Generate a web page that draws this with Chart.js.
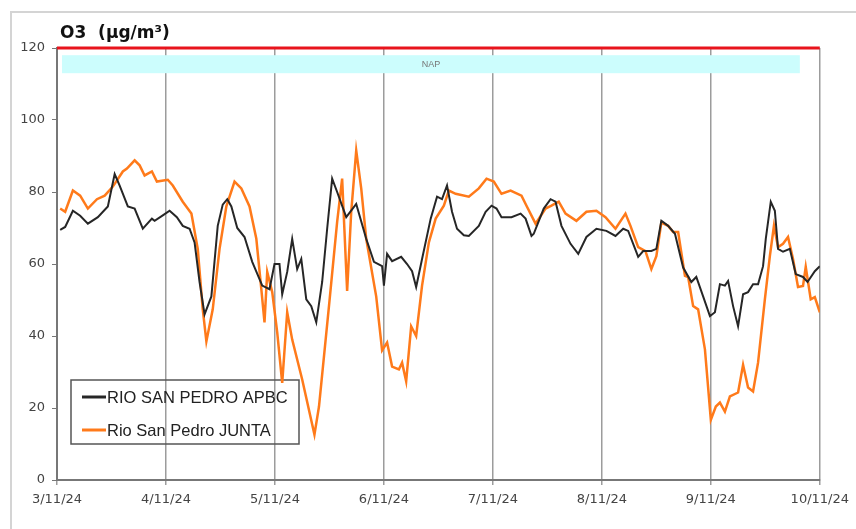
<!DOCTYPE html>
<html>
<head>
<meta charset="utf-8">
<script src="https://cdn.jsdelivr.net/npm/chart.js@4.4.1/dist/chart.umd.min.js"></script>
<style>
  html, body { margin: 0; padding: 0; background: #fff; }
  #wrap { position: relative; width: 856px; height: 529px; overflow: hidden; }
  #frame { position: absolute; left: 10px; top: 11px; width: 900px; height: 600px;
           border-left: 2px solid #d4d4d4; border-top: 2px solid #d4d4d4; }
  #chart { position: absolute; left: 0; top: 0; }
</style>
</head>
<body>
<div id="wrap">
  <div id="frame"></div>
  <canvas id="chart" width="856" height="529"></canvas>
</div>
<script>
// O3 hourly values (x = hours since 3/11/24 00:00)

const dateLabels = ['3/11/24', '4/11/24', '5/11/24', '6/11/24', '7/11/24', '8/11/24', '9/11/24', '10/11/24'];
const yTicks = [0, 20, 40, 60, 80, 100, 120];

const apbcHours = [0.7, 1.8, 3.5, 5.1, 6.8, 9.0, 11.2, 12.7, 13.8, 15.6, 17.1, 18.9, 20.9, 21.5, 23.3,
  24.8, 26.4, 27.7, 29.2, 30.3, 31.4, 32.5, 34.0, 35.4, 36.5, 37.5, 38.4, 39.7, 41.3, 43.0, 45.2, 46.8,
  47.9, 49.0, 49.6, 50.7, 51.8, 52.9, 53.8, 54.9, 56.0, 57.1, 58.4, 59.5, 60.6, 61.7, 63.7, 65.9, 68.1,
  69.8, 71.6, 72.0, 72.7, 73.8, 75.8, 77.1, 78.2, 79.1, 80.4, 82.3, 83.7, 84.8, 85.9, 87.0, 88.1, 89.6,
  90.7, 92.9, 94.4, 95.7, 96.8, 97.9, 100.1, 102.1, 103.2, 104.5, 105.0, 107.2, 108.7, 109.8, 111.1,
  113.1, 114.8, 116.6, 118.8, 121.0, 123.0, 124.7, 125.8, 128.0, 129.1, 130.9, 132.0, 133.1, 134.6,
  136.1, 137.9, 139.7, 140.8, 142.3, 143.8, 144.9, 146.0, 147.1, 147.8, 148.9, 150.0, 151.1, 152.2,
  153.3, 154.4, 155.5, 156.1, 157.2, 158.1, 158.8, 159.9, 161.4, 162.7, 164.3, 165.3, 166.9, 168.0];
const apbcValues = [69.5, 70.3, 74.8, 73.4, 71.2, 73, 76, 85, 81.8, 76, 75.4, 69.8, 72.6, 72, 73.5,
  74.8, 73, 70.6, 69.8, 66, 55, 46, 51, 70.6, 76.5, 78, 76, 70, 67.5, 60.6, 54, 53,
  60, 60, 51.6, 57.8, 67, 58.6, 61.4, 50.2, 48.3, 43.8, 55, 69.8, 83.7, 80, 73, 76.7, 67,
  60.6, 59.4, 54, 62.8, 60.8, 62, 60, 58, 53.6, 61.4, 72.6, 78.7, 78, 81.8, 74.5, 69.8, 68,
  67.8, 70.6, 74.5, 76.2, 75.4, 73, 73, 74, 72.6, 67.8, 68.4, 75.4, 78, 77.3, 70.6,
  65.6, 62.8, 67.5, 69.8, 69.2, 67.8, 69.8, 69.2, 62, 63.6, 63.6, 64.2, 72, 70.6,
  68.4, 59, 55, 56.4, 51, 45.5, 46.6, 54.4, 54, 55.3, 48.3, 42.7, 51.6, 52.2,
  54.4, 54.4, 59.4, 67, 77.3, 74.8, 64.2, 63.4, 64.2, 57.2, 56.4, 55, 58, 59.4];

const juntaHours = [0.7, 1.8, 3.5, 5.1, 6.8, 8.8, 10.5, 12.3, 14.5, 15.4, 17.1, 18.2, 19.3, 20.9, 22.0,
  24.4, 25.5, 27.7, 29.6, 31.0, 32.1, 32.9, 34.3, 35.8, 37.3, 39.1, 40.6, 42.4, 43.9, 45.0, 45.7, 46.3,
  47.4, 48.5, 49.6, 50.7, 51.8, 54.0, 56.7, 57.7, 59.9, 61.7, 62.8, 63.9, 64.8, 65.9, 67.0, 68.1, 70.3,
  71.6, 72.7, 73.8, 75.3, 76.0, 76.9, 78.0, 79.1, 80.4, 81.9, 83.4, 85.2, 86.3, 87.8, 90.7, 92.9, 94.6,
  96.2, 97.9, 99.9, 102.3, 103.4, 105.4, 107.6, 108.9, 110.5, 112.0, 114.4, 116.6, 118.8, 120.8, 123.0,
  125.2, 126.3, 128.0, 129.6, 130.9, 132.0, 133.1, 134.6, 135.7, 136.8, 138.3, 139.0, 140.1, 141.2,
  142.7, 144.0, 145.1, 146.0, 147.1, 148.2, 150.0, 151.1, 152.2, 153.3, 154.4, 155.9, 157.0, 157.9,
  158.8, 159.9, 161.0, 162.1, 163.2, 164.3, 164.9, 166.0, 166.9, 168.0];
const juntaValues = [75.4, 74.5, 80.4, 79, 75.4, 78, 79, 81.5, 85.7, 86.5, 88.8, 87.4, 84.6, 85.7, 82.9,
  83.4, 81.8, 77.3, 74, 64.2, 47.4, 38.5, 47.4, 64.2, 76, 82.9, 81, 76, 67, 53, 43.8, 57.8,
  52.2, 41, 27, 46.6, 39, 27.9, 12.6, 20.4, 48.3, 71.7, 83.7, 52.5, 74.5, 91.5, 81, 67, 51,
  36, 38.2, 31.5, 30.7, 32.6, 27.4, 42.7, 40, 54, 66, 72.6, 76.2, 80.4, 79.5, 78.7, 81, 83.7,
  82.9, 79.5, 80.4, 79, 76.2, 71.2, 75.4, 76.2, 77.3, 74, 72, 74.5, 74.8, 73, 69.8,
  74, 70.6, 64.7, 63.6, 58.6, 62.2, 71.5, 70.6, 68.9, 68.9, 56.7, 56.4, 48.3, 47.4,
  36.3, 16.7, 20.4, 21.5, 19, 23.2, 24.3, 32, 25.7, 24.6, 32.6, 50.2, 62.2, 70.6,
  64.7, 65.6, 67.5, 61.4, 53.6, 53.9, 59.2, 50.2, 50.8, 46.6];

// limit line and NAP band, in chart units
const limitValue = 120;
const napBand = { from: 1.1, to: 163.6, top: 118, bottom: 113, label: 'NAP' };

function points(hours, values) {
  return hours.map((h, i) => ({ x: h, y: values[i] }));
}

// draws title, red limit line, NAP band and the legend box
const extras = {
  id: 'extras',
  beforeDatasetsDraw(chart) {
    const ctx = chart.ctx;
    const xs = chart.scales.x, ys = chart.scales.y;
    ctx.save();

    // NAP band
    const bx1 = xs.getPixelForValue(napBand.from), bx2 = xs.getPixelForValue(napBand.to);
    const by1 = ys.getPixelForValue(napBand.top), by2 = ys.getPixelForValue(napBand.bottom);
    ctx.fillStyle = '#ccfdfd';
    ctx.fillRect(bx1, by1, bx2 - bx1, by2 - by1);
    ctx.fillStyle = '#777';
    ctx.font = '9px "Liberation Sans", Arial, sans-serif';
    ctx.textAlign = 'center';
    ctx.textBaseline = 'middle';
    ctx.fillText(napBand.label, (bx1 + bx2) / 2, (by1 + by2) / 2);

    // legend (transparent box, lines drawn over it)
    const lx = 71, ly = 380, lw = 228, lh = 64;
    ctx.strokeStyle = '#555';
    ctx.lineWidth = 1.5;
    ctx.strokeRect(lx, ly, lw, lh);
    ctx.font = '16.5px "Liberation Sans", Arial, sans-serif';
    ctx.textAlign = 'left';
    chart.data.datasets.forEach((ds, i) => {
      const yy = ly + 17 + i * 33;
      ctx.strokeStyle = ds.borderColor;
      ctx.lineWidth = 3;
      ctx.beginPath();
      ctx.moveTo(lx + 11, yy);
      ctx.lineTo(lx + 35, yy);
      ctx.stroke();
      ctx.fillStyle = '#222';
      ctx.fillText(ds.label, lx + 36, yy + 1);
    });

    // title
    ctx.fillStyle = '#111';
    ctx.font = 'bold 17px "DejaVu Sans", Verdana, sans-serif';
    ctx.textBaseline = 'alphabetic';
    ctx.fillText('O3  (µg/m³)', 60, 38);
    ctx.restore();
  },
  afterDatasetsDraw(chart) {
    const ctx = chart.ctx;
    const xs = chart.scales.x, ys = chart.scales.y;
    const y = ys.getPixelForValue(limitValue);
    ctx.save();
    ctx.strokeStyle = '#e8141c';
    ctx.lineWidth = 3;
    ctx.beginPath();
    ctx.moveTo(xs.left, y);
    ctx.lineTo(xs.right, y);
    ctx.stroke();
    ctx.restore();
  }
};

const chart = new Chart(document.getElementById('chart').getContext('2d'), {
  type: 'line',
  data: {
    datasets: [{
      label: 'RIO SAN PEDRO APBC',
      data: points(apbcHours, apbcValues),
      borderColor: '#262626',
      borderWidth: 2,
      pointRadius: 0,
      tension: 0
    }, {
      label: 'Rio San Pedro JUNTA',
      data: points(juntaHours, juntaValues),
      borderColor: '#ff7a1a',
      borderWidth: 2.5,
      pointRadius: 0,
      tension: 0
    }]
  },
  options: {
    responsive: false,
    animation: false,
    layout: { padding: { top: 48, right: 34, left: 0, bottom: 0 } },
    plugins: {
      legend: { display: false },
      tooltip: { enabled: false }
    },
    scales: {
      x: {
        type: 'linear',
        min: 0,
        max: 168,
        afterFit: (scale) => { scale.height = 49; },
        ticks: {
          stepSize: 24,
          autoSkip: false,
          maxRotation: 0,
          padding: 7,
          color: '#444',
          font: { family: '"DejaVu Sans", Verdana, sans-serif', size: 13 },
          callback: (value) => dateLabels[Math.round(value / 24)]
        },
        grid: { color: '#9c9c9c', lineWidth: 1.5, tickLength: 5 },
        border: { color: '#777', width: 2 }
      },
      y: {
        min: 0,
        max: 120,
        afterFit: (scale) => { scale.width = 57; },
        afterBuildTicks: (scale) => { scale.ticks = yTicks.map(v => ({ value: v })); },
        ticks: {
          padding: 7,
          color: '#444',
          font: { family: '"DejaVu Sans", Verdana, sans-serif', size: 13 }
        },
        grid: { drawOnChartArea: false, color: '#777', tickLength: 5 },
        border: { color: '#777', width: 2 }
      }
    }
  },
  plugins: [extras]
});
</script>
</body>
</html>
